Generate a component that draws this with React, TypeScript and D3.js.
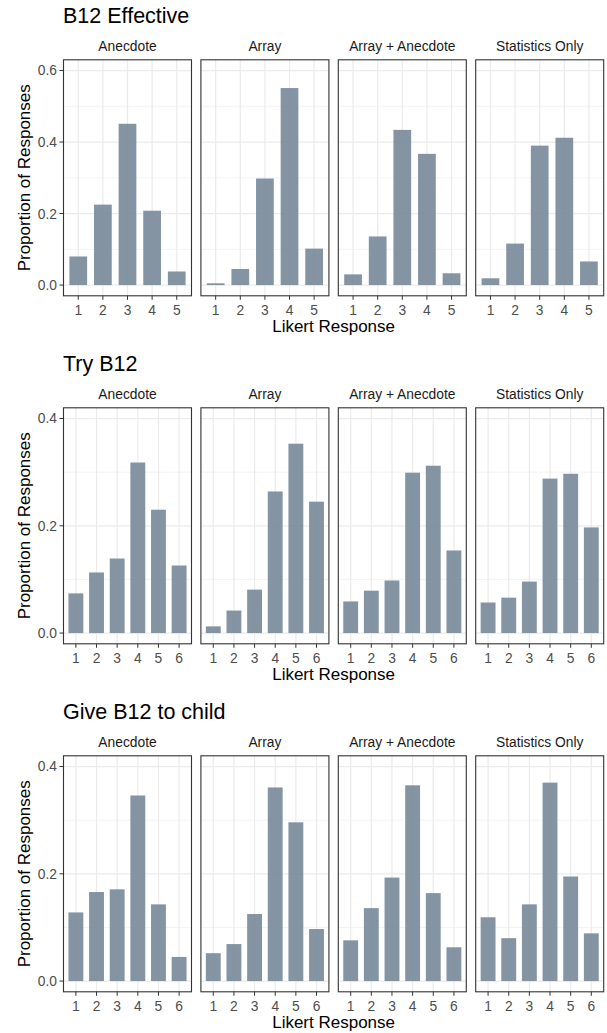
import React from "react";
import * as d3 from "d3";

// ---- Data ----
const conditions = ["Anecdote", "Array", "Array + Anecdote", "Statistics Only"];
const likert5 = ["1", "2", "3", "4", "5"];
const likert6 = ["1", "2", "3", "4", "5", "6"];

// B12 Effective (5-point)
const effAnecdote = [0.08, 0.225, 0.451, 0.208, 0.038];
const effArray = [0.005, 0.045, 0.298, 0.551, 0.102];
const effArrayAnecdote = [0.03, 0.136, 0.434, 0.367, 0.033];
const effStatistics = [0.019, 0.116, 0.39, 0.412, 0.066];

// Try B12 (6-point)
const tryAnecdote = [0.074, 0.113, 0.139, 0.318, 0.23, 0.126];
const tryArray = [0.0125, 0.042, 0.081, 0.264, 0.353, 0.245];
const tryArrayAnecdote = [0.059, 0.079, 0.098, 0.299, 0.312, 0.154];
const tryStatistics = [0.057, 0.066, 0.096, 0.288, 0.297, 0.197];

// Give B12 to child (6-point)
const giveAnecdote = [0.128, 0.166, 0.171, 0.346, 0.143, 0.045];
const giveArray = [0.052, 0.069, 0.125, 0.361, 0.296, 0.097];
const giveArrayAnecdote = [0.076, 0.136, 0.193, 0.365, 0.164, 0.063];
const giveStatistics = [0.119, 0.08, 0.143, 0.37, 0.195, 0.089];

const chartTitles = ["B12 Effective", "Try B12", "Give B12 to child"];
const yMaxes = [0.6, 0.4, 0.4];
const yTicks1 = [0, 0.2, 0.4, 0.6];
const yTicks23 = [0, 0.2, 0.4];

const charts = [
  { title: chartTitles[0], levels: likert5, yMax: yMaxes[0], ticks: yTicks1, series: [effAnecdote, effArray, effArrayAnecdote, effStatistics] },
  { title: chartTitles[1], levels: likert6, yMax: yMaxes[1], ticks: yTicks23, series: [tryAnecdote, tryArray, tryArrayAnecdote, tryStatistics] },
  { title: chartTitles[2], levels: likert6, yMax: yMaxes[2], ticks: yTicks23, series: [giveAnecdote, giveArray, giveArrayAnecdote, giveStatistics] },
];

// ---- Layout ----
const W = 607;
const H = 1033;
const FONT = "'Liberation Sans', Arial, Helvetica, sans-serif";
const chartStep = 348;
const panelTop0 = 59.8;
const panelH = 236;
const panelLeft0 = 63.5;
const panelW = 128;
const panelStep = 137.4;
const barFill = "#778899";

function Chart({ chart, idx }: { chart: any; idx: number }) {
  const oy = idx * chartStep;
  const top = panelTop0 + oy;
  const bottom = top + panelH;
  const y = d3
    .scaleLinear()
    .domain([-0.05 * chart.yMax, 1.05 * chart.yMax])
    .range([bottom, top]);
  const minor: number[] = [];
  for (let i = 0; i < chart.ticks.length - 1; i++) minor.push((chart.ticks[i] + chart.ticks[i + 1]) / 2);
  const xCenter = (panelLeft0 + panelLeft0 + 3 * panelStep + panelW) / 2;

  return (
    <g>
      <text x={63} y={22.5 + oy} fontSize={21.5} fill="#000" fontFamily={FONT}>
        {chart.title}
      </text>
      {/* y axis title */}
      <text
        transform={`translate(29.5,${(top + bottom) / 2}) rotate(-90)`}
        textAnchor="middle"
        fontSize={17}
        fill="#000"
        fontFamily={FONT}
      >
        Proportion of Responses
      </text>
      {/* x axis title */}
      <text x={xCenter} y={331.5 + oy} textAnchor="middle" fontSize={17} fill="#000" fontFamily={FONT}>
        Likert Response
      </text>
      {/* y tick labels */}
      {chart.ticks.map((t: number) => (
        <g key={"yt" + t}>
          <line x1={panelLeft0 - 4} x2={panelLeft0} y1={y(t)} y2={y(t)} stroke="#333333" strokeWidth={1} />
          <text x={panelLeft0 - 6.5} y={y(t)} dy="0.36em" textAnchor="end" fontSize={13.8} fill="#4D4D4D" fontFamily={FONT}>
            {t.toFixed(1)}
          </text>
        </g>
      ))}
      {conditions.map((cond, ci) => {
        const left = panelLeft0 + ci * panelStep;
        const right = left + panelW;
        const x = d3.scalePoint<string>().domain(chart.levels).range([left, right]).padding(0.6);
        const bw = x.step() * 0.72;
        const vals: number[] = chart.series[ci];
        return (
          <g key={cond}>
            <text x={(left + right) / 2} y={50.5 + oy} textAnchor="middle" fontSize={13.8} fill="#1A1A1A" fontFamily={FONT}>
              {cond}
            </text>
            <rect x={left} y={top} width={panelW} height={panelH} fill="#fff" />
            {minor.map((m) => (
              <line key={"mn" + m} x1={left} x2={right} y1={y(m)} y2={y(m)} stroke="#EBEBEB" strokeWidth={0.6} />
            ))}
            {chart.ticks.map((t: number) => (
              <line key={"mj" + t} x1={left} x2={right} y1={y(t)} y2={y(t)} stroke="#EBEBEB" strokeWidth={1.2} />
            ))}
            {chart.levels.map((l: string) => (
              <line key={"vx" + l} x1={x(l)} x2={x(l)} y1={top} y2={bottom} stroke="#EBEBEB" strokeWidth={1.2} />
            ))}
            {chart.levels.map((l: string, li: number) => (
              <rect
                key={"b" + l}
                x={(x(l) as number) - bw / 2}
                y={y(vals[li])}
                width={bw}
                height={y(0) - y(vals[li])}
                fill={barFill}
                fillOpacity={0.9}
              />
            ))}
            <rect x={left} y={top} width={panelW} height={panelH} fill="none" stroke="#333333" strokeWidth={1.1} />
            {chart.levels.map((l: string) => (
              <g key={"xt" + l}>
                <line x1={x(l)} x2={x(l)} y1={bottom} y2={bottom + 4} stroke="#333333" strokeWidth={1} />
                <text x={x(l)} y={bottom + 19} textAnchor="middle" fontSize={13.8} fill="#4D4D4D" fontFamily={FONT}>
                  {l}
                </text>
              </g>
            ))}
          </g>
        );
      })}
    </g>
  );
}

export default function App() {
  return (
    <svg
      width={W}
      height={H}
      viewBox={`0 0 ${W} ${H}`}
      style={{ position: "absolute", left: 0, top: 0, display: "block", background: "#fff" }}
    >
      <rect x={0} y={0} width={W} height={H} fill="#fff" />
      {charts.map((c, i) => (
        <Chart key={c.title} chart={c} idx={i} />
      ))}
    </svg>
  );
}
